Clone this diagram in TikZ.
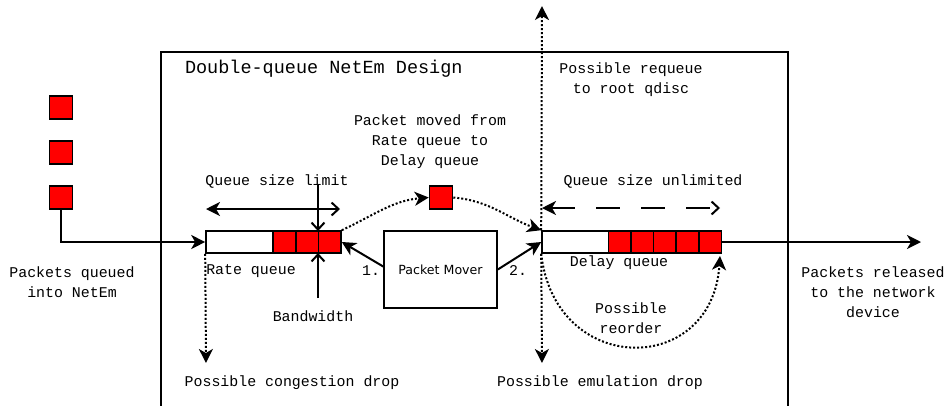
\documentclass[tikz,border=0pt]{standalone}
\usepackage{fontspec}
\setmonofont{Liberation Mono}
\newfontfamily\moverfont{DejaVu Sans}
\usetikzlibrary{arrows.meta}
\begin{document}
\begin{tikzpicture}[x=1pt,y=1pt,line width=2pt,
  lbl/.style={font=\ttfamily\fontsize{14.9}{20}\selectfont,align=center,inner sep=0pt},
  pkt/.style={draw,fill=red,minimum size=23pt,inner sep=0pt,line width=1.6pt},
  cell/.style={draw,fill=red,minimum width=22.6pt,minimum height=22pt,inner sep=0pt,line width=1.6pt},
  queue/.style={draw,fill=white,minimum height=22pt,inner sep=0pt,line width=1.6pt},
  dots/.style={line width=2pt,dash pattern=on 2pt off 2pt},
  fa/.style={-{Stealth[length=14pt,width=14pt,inset=4pt]}},
  oa/.style={-{Straight Barb[length=7pt,width=13pt]}},
  dbl/.style={{Stealth[length=14pt,width=14pt,inset=4pt]}-{Straight Barb[length=7pt,width=13pt]}}]
\clip (0,0) rectangle (948,-405);
\useasboundingbox (0,0) rectangle (948,-405);
% frame
\draw[line width=2pt] (161,-420) -- (161,-52) -- (788,-52) -- (788,-420);
\node[lbl,anchor=west,font=\ttfamily\fontsize{18.5}{22}\selectfont] (title) at (184,-69) {Double-queue NetEm Design};
% input packets
\node[pkt] (p1) at (61,-107.5) {};
\node[pkt] (p2) at (61,-152.5) {};
\node[pkt] (p3) at (61,-197.5) {};
\node[lbl] (inlbl) at (72,-282) {Packets queued\\into NetEm};
% rate queue
\node[queue,minimum width=135pt] (rq) at (273.5,-242) {};
\node[cell] (rc1) at (284.3,-242) {};
\node[cell] (rc2) at (307,-242) {};
\node[cell] (rc3) at (329.6,-242) {};
\draw[fa] (p3.south) |- (rq.west);
\node[lbl] (rqlbl) at (251,-271) {Rate queue};
\node[lbl] (qsl) at (277,-182) {Queue size limit};
\coordinate (qslL) at (206,-209);
\coordinate (qslR) at (340,-209);
\draw[dbl] (qslL) -- (qslR);
\coordinate (bwT) at (318,-185);
\coordinate (bwTi) at (318,-231);
\coordinate (bwB) at (318,-298);
\coordinate (bwBi) at (318,-253);
\draw[oa] (bwT) -- (bwTi);
\draw[oa] (bwB) -- (bwBi);
\node[lbl] (bw) at (313,-316) {Bandwidth};
\coordinate (cdrop) at (206,-363);
\draw[dots,fa] (rq.south west) -- (cdrop);
\node[lbl] (cdlbl) at (292,-383) {Possible congestion drop};
% packet mover
\node[draw,line width=1.6pt,minimum width=113pt,minimum height=77pt,inner sep=0pt,font=\moverfont\fontsize{12.6}{15}\selectfont] (pm) at (440.5,-269.5) {Packet Mover};
\node[lbl] (one) at (371,-271) {1.};
\node[lbl] (two) at (518,-271) {2.};
% moved packet
\node[pkt] (mp) at (441,-197.5) {};
\node[lbl] (mvlbl) at (430,-142) {Packet moved from\\Rate queue to\\Delay queue};
% delay queue
\node[queue,minimum width=179pt] (dq) at (631.5,-242) {};
\node[cell] (dc1) at (619.7,-242) {};
\node[cell] (dc2) at (642.3,-242) {};
\node[cell] (dc3) at (664.9,-242) {};
\node[cell] (dc4) at (687.5,-242) {};
\node[cell] (dc5) at (710.1,-242) {};
\node[lbl] (dqlbl) at (619,-263) {Delay queue};
\node[lbl] (qsu) at (653,-182) {Queue size unlimited};
\coordinate (qsuL) at (542,-208);
\coordinate (qsuR) at (720,-208);
\draw[dbl,dash pattern=on 24pt off 21pt] (qsuL) -- (qsuR);
% mover arrows
\draw[fa] ([yshift=3pt]pm.west) -- (rq.east);
\draw[fa] (pm.east) -- (dq.west);
\draw[dots,fa] (rq.north east) to[out=25,in=185] (mp.west);
\draw[dots,fa] (mp.east) to[out=-5,in=160] (dq.north west);
% requeue / drop
\coordinate (rqtop) at (542,-6);
\coordinate (edrop) at (542,-363);
\draw[dots,fa] (dq.north west) -- (rqtop);
\draw[dots,fa] (dq.south west) -- (edrop);
\node[lbl] (rqq) at (631,-80) {Possible requeue\\to root qdisc};
\node[lbl] (edlbl) at (600,-383) {Possible emulation drop};
% reorder
\coordinate (roEnd) at (720,-256);
\draw[dots,fa] (dq.south west) .. controls (555,-377) and (712,-377) .. (roEnd);
\node[lbl] (ro) at (631,-318) {Possible\\reorder};
% output
\coordinate (out) at (921,-242);
\draw[fa] (dq.east) -- (out);
\node[lbl] (outlbl) at (873,-292) {Packets released\\to the network\\device};
\end{tikzpicture}
\end{document}
